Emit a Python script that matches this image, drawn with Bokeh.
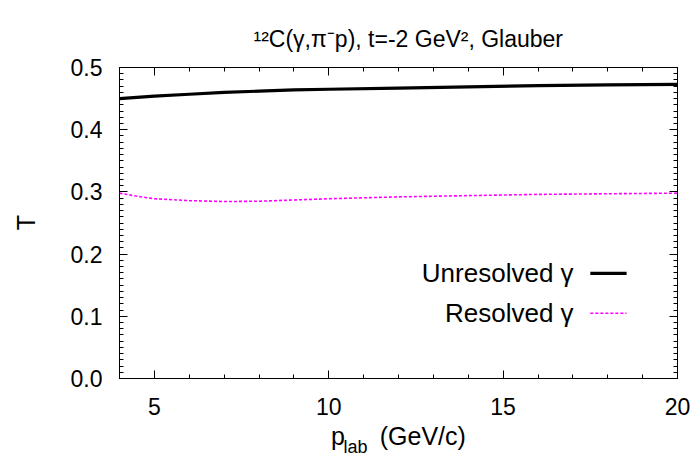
import math
from bokeh.plotting import figure
from bokeh.models import (Range1d, SingleIntervalTicker, PrintfTickFormatter, LinearAxis,
                          Label, Arrow, ColumnDataSource, CustomJSTickFormatter)
from bokeh.embed import file_html
from bokeh.resources import INLINE

# ---- data ----
p_lab = [4, 4.5, 5, 6, 7, 8, 9, 10, 12, 14, 16, 18, 20]
t_unresolved = [0.450, 0.452, 0.454, 0.457, 0.460, 0.462, 0.464, 0.465, 0.467, 0.469, 0.471, 0.472, 0.473]
t_resolved = [0.298, 0.293, 0.289, 0.286, 0.2845, 0.285, 0.287, 0.289, 0.292, 0.294, 0.296, 0.297, 0.298]
legend_labels = ["Unresolved γ", "Resolved γ"]
title_text = "¹²C(γ,π⁻p), t=-2 GeV², Glauber"

FONT = "Liberation Sans"
FS_TICK = "23px"
FS_LABEL = "25px"

p = figure(width=694, height=464, output_backend="svg", toolbar_location=None,
           x_range=Range1d(4, 20), y_range=Range1d(0, 0.5),
           min_border_left=119, min_border_right=17, min_border_top=67, min_border_bottom=86)
p.background_fill_color = "white"
p.border_fill_color = "white"
p.outline_line_color = "black"
p.outline_line_width = 1
p.grid.visible = False
p.title.visible = False

src = ColumnDataSource(dict(x=p_lab, u=t_unresolved, r=t_resolved))
p.line("x", "u", source=src, line_color="black", line_width=3.2)
p.line("x", "r", source=src, line_color="#ff00ff", line_width=1.6, line_dash="3 2")

blank = CustomJSTickFormatter(code="return '';")

def style(ax):
    ax.axis_line_color = None
    ax.major_tick_in = 8
    ax.major_tick_out = 0
    ax.minor_tick_in = 4
    ax.minor_tick_out = 0
    ax.major_tick_line_color = "black"
    ax.minor_tick_line_color = "black"
    ax.major_label_text_font = FONT
    ax.major_label_text_font_size = FS_TICK
    ax.major_label_text_color = "black"
    ax.axis_label_text_font = FONT
    ax.axis_label_text_font_size = FS_LABEL
    ax.axis_label_text_font_style = "normal"
    ax.axis_label_text_color = "black"

xa = p.xaxis[0]
xa.ticker = SingleIntervalTicker(interval=5, num_minor_ticks=5)
style(xa)
xa.major_label_standoff = 19
xa.axis_label = "p" + "\u00a0" * 5 + "(GeV/c)"
xa.axis_label_standoff = 4

ya = p.yaxis[0]
ya.ticker = SingleIntervalTicker(interval=0.1, num_minor_ticks=10)
ya.formatter = PrintfTickFormatter(format="%.1f")
style(ya)
ya.major_label_standoff = 17

top = LinearAxis(ticker=SingleIntervalTicker(interval=5, num_minor_ticks=5), formatter=blank)
style(top)
p.add_layout(top, "above")
right = LinearAxis(ticker=SingleIntervalTicker(interval=0.1, num_minor_ticks=10), formatter=blank)
style(right)
p.add_layout(right, "right")

# extra texts placed in canvas pixels, kept in side panels so they are not clipped
def lab(text, x, y, size=FS_LABEL, angle=0.0, align="left", baseline="alphabetic", side="left"):
    p.add_layout(Label(x=x, y=y, x_units="canvas", y_units="canvas", text=text, text_font=FONT,
                       text_font_size=size, text_align=align, text_baseline=baseline,
                       angle=angle, text_color="black"), side)

lab("lab", 343, 446, size="18px")                                           # subscript of p_lab
lab("T", 25, 222, angle=math.pi / 2, align="center", baseline="middle")     # y-axis label
lab(title_text, 253, 38, size="23px", side="above")                          # title

# legend (text right-aligned, sample line to the right, as in gnuplot)
legend_y = [0.169, 0.105]
for txt, yy in zip(legend_labels, legend_y):
    p.add_layout(Label(x=17.02, y=yy, text=txt, text_font=FONT, text_font_size="26px",
                       text_align="right", text_baseline="middle", text_color="black"))
p.add_layout(Arrow(end=None, x_start=17.5, y_start=legend_y[0], x_end=18.54, y_end=legend_y[0],
                   line_color="black", line_width=3.2))
p.add_layout(Arrow(end=None, x_start=17.5, y_start=legend_y[1], x_end=18.54, y_end=legend_y[1],
                   line_color="#ff00ff", line_width=1.6, line_dash="3 2"))

open("out.html", "w").write(file_html(p, INLINE))
